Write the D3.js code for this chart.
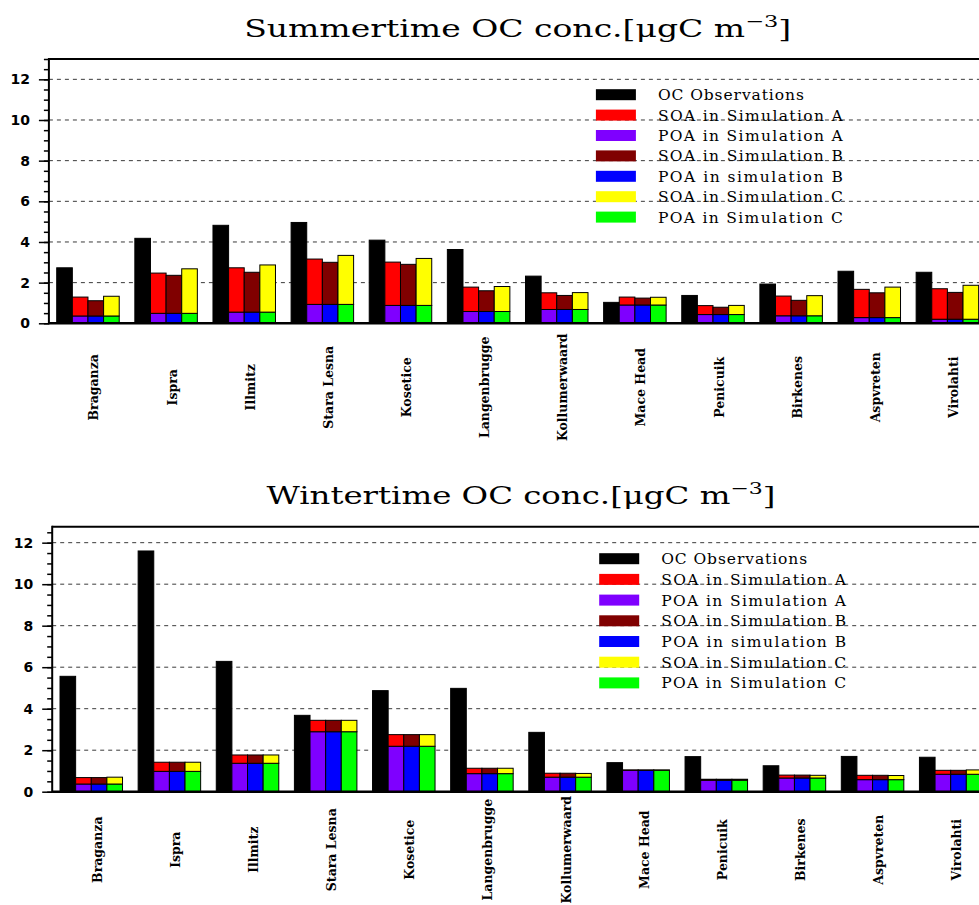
<!DOCTYPE html>
<html>
<head>
<meta charset="utf-8">
<script src="https://cdn.jsdelivr.net/npm/d3@7"></script>
<style>
  html, body { margin: 0; padding: 0; background: #fff; }
  svg { display: block; }
</style>
</head>
<body>
<svg id="chart" width="979" height="905"></svg>
<script>
// Measurement sites, in plotting order
const sites = ["Braganza", "Ispra", "Illmitz", "Stara Lesna", "Kosetice", "Langenbrugge",
  "Kollumerwaard", "Mace Head", "Penicuik", "Birkenes", "Aspvreten", "Virolahti"];

// Summer: observed OC and modelled POA / SOA (µgC m-3)
const summerObs  = [2.73, 4.18, 4.82, 4.96, 4.09, 3.63, 2.32, 1.03, 1.37, 1.93, 2.56, 2.51];
const summerPoa  = [0.36, 0.49, 0.55, 0.93, 0.88, 0.58, 0.68, 0.90, 0.43, 0.37, 0.28, 0.20];
const summerSoaA = [0.93, 1.98, 2.18, 2.23, 2.13, 1.20, 0.82, 0.39, 0.44, 0.97, 1.39, 1.50];
const summerSoaB = [0.75, 1.87, 1.96, 2.07, 2.02, 1.02, 0.69, 0.34, 0.36, 0.76, 1.22, 1.32];
const summerSoaC = [0.97, 2.19, 2.32, 2.41, 2.31, 1.23, 0.83, 0.38, 0.45, 0.99, 1.50, 1.67];

// Winter: observed OC and modelled POA / SOA (µgC m-3)
const winterObs  = [5.56, 11.60, 6.28, 3.68, 4.87, 4.98, 2.86, 1.40, 1.69, 1.25, 1.70, 1.66];
const winterPoa  = [0.37, 0.98, 1.37, 2.89, 2.19, 0.87, 0.70, 1.03, 0.55, 0.66, 0.58, 0.84];
const winterSoaA = [0.31, 0.44, 0.40, 0.55, 0.56, 0.26, 0.19, 0.02, 0.05, 0.14, 0.21, 0.19];
const winterSoaB = [0.31, 0.44, 0.40, 0.55, 0.56, 0.26, 0.19, 0.02, 0.05, 0.14, 0.21, 0.19];
const winterSoaC = [0.33, 0.44, 0.40, 0.55, 0.56, 0.26, 0.18, 0.02, 0.05, 0.13, 0.20, 0.21];

const legendLabels = ["OC Observations", "SOA in Simulation A", "POA in Simulation A",
  "SOA in Simulation B", "POA in simulation B", "SOA in Simulation C", "POA in Simulation C"];
const legendColors = ["#000000", "#ff0000", "#7f00ff", "#800000", "#0000ff", "#ffff00", "#00ff00"];

const majorTicks = [0, 2, 4, 6, 8, 10, 12];

const svg = d3.select("#chart");
const serif = "'DejaVu Serif', serif";

function drawPanel(p) {
  const g = svg.append("g");
  const bandW = 78.13;
  const right = p.left + bandW * sites.length;
  const x = d3.scaleBand().domain(sites).range([p.left, right]).padding(0);
  const slot = x.bandwidth() / 5;
  const y = d3.scaleLinear().domain([0, p.yMax]).range([p.bottom, p.top]);

  // dashed grid
  g.append("g").selectAll("line")
    .data(majorTicks.filter(d => d > 0))
    .join("line")
    .attr("x1", p.left).attr("x2", right)
    .attr("y1", d => y(d)).attr("y2", d => y(d))
    .attr("stroke", "#3a3a3a").attr("stroke-width", 1)
    .attr("stroke-dasharray", "4,4");

  // bars: observation + three stacked simulations
  const sims = [
    { soa: p.soaA, soaColor: "#ff0000", poaColor: "#7f00ff" },
    { soa: p.soaB, soaColor: "#800000", poaColor: "#0000ff" },
    { soa: p.soaC, soaColor: "#ffff00", poaColor: "#00ff00" }
  ];
  const bars = g.append("g");
  sites.forEach((s, i) => {
    const x0 = x(s) + slot * 0.5;
    bars.append("rect")
      .attr("x", x0).attr("width", slot)
      .attr("y", y(p.obs[i])).attr("height", y(0) - y(p.obs[i]))
      .attr("fill", "#000").attr("stroke", "#000").attr("stroke-width", 1);
    sims.forEach((sim, k) => {
      const xs = x0 + slot * (k + 1);
      const poa = p.poa[i], tot = poa + sim.soa[i];
      bars.append("rect")
        .attr("x", xs).attr("width", slot)
        .attr("y", y(poa)).attr("height", y(0) - y(poa))
        .attr("fill", sim.poaColor).attr("stroke", "#000").attr("stroke-width", 1);
      bars.append("rect")
        .attr("x", xs).attr("width", slot)
        .attr("y", y(tot)).attr("height", y(poa) - y(tot))
        .attr("fill", sim.soaColor).attr("stroke", "#000").attr("stroke-width", 1);
    });
  });

  // frame
  g.append("line").attr("x1", p.left).attr("x2", right + 5)
    .attr("y1", p.top).attr("y2", p.top).attr("stroke", "#000").attr("stroke-width", 2);
  g.append("line").attr("x1", p.left).attr("x2", right + 5)
    .attr("y1", p.bottom).attr("y2", p.bottom).attr("stroke", "#000").attr("stroke-width", 2.5);
  g.append("line").attr("x1", p.left).attr("x2", p.left)
    .attr("y1", p.top - 1).attr("y2", p.bottom + 1).attr("stroke", "#000").attr("stroke-width", 2);

  // y axis: minor and major ticks
  const minor = d3.range(0, p.yMax + 0.001, 0.5);
  g.append("g").attr("transform", `translate(${p.left},0)`)
    .call(d3.axisLeft(y).tickValues(minor).tickSize(5).tickFormat(""))
    .call(a => a.select(".domain").remove())
    .call(a => a.selectAll("line").attr("stroke-width", 1.5));
  g.append("g").attr("transform", `translate(${p.left},0)`)
    .call(d3.axisLeft(y).tickValues(majorTicks).tickSize(10).tickPadding(9).tickFormat(d3.format("d")))
    .call(a => a.select(".domain").remove())
    .call(a => a.selectAll("line").attr("stroke-width", 1.5))
    .call(a => a.selectAll("text")
      .attr("font-family", "'DejaVu Sans', sans-serif")
      .attr("font-weight", "bold").attr("font-size", 14).attr("fill", "#000"));

  // site labels, rotated
  g.append("g").selectAll("text")
    .data(sites)
    .join("text")
    .attr("transform", d => `translate(${x(d) + x.bandwidth() / 2 + 10.5},${p.bottom + p.labelOffset}) rotate(-90)`)
    .attr("text-anchor", "middle")
    .attr("font-family", serif)
    .attr("font-weight", "bold").attr("font-size", 12.5)
    .text(d => d);

  // title
  const t = g.append("text")
    .attr("x", (p.left + right) / 2).attr("y", p.titleY)
    .attr("text-anchor", "middle")
    .attr("font-family", serif)
    .attr("font-size", 25)
    .attr("textLength", p.titleWidth).attr("lengthAdjust", "spacingAndGlyphs");
  t.append("tspan").text(p.title + " OC conc.[\u03bcgC m");
  t.append("tspan").attr("dy", -10).attr("font-size", 17).text("\u22123");
  t.append("tspan").attr("dy", 10).text("]");

  // legend
  const lg = g.append("g");
  legendLabels.forEach((lab, i) => {
    const cy = p.legendY + i * p.legendStep;
    lg.append("rect").attr("x", p.left + 547).attr("y", cy - 5.5)
      .attr("width", 40).attr("height", 11).attr("fill", legendColors[i]);
    lg.append("text").attr("x", p.left + 609).attr("y", cy + 5.5)
      .attr("font-family", serif)
      .attr("font-size", 15.5)
      .attr("textLength", lab.length * 9.73).attr("lengthAdjust", "spacing")
      .text(lab);
  });
}

drawPanel({
  title: "Summertime", left: 48.9, top: 59, bottom: 323.3, yMax: 13, labelOffset: 64,
  titleY: 37, titleWidth: 547, legendY: 94.7, legendStep: 20.4,
  obs: summerObs, poa: summerPoa, soaA: summerSoaA, soaB: summerSoaB, soaC: summerSoaC
});
drawPanel({
  title: "Wintertime", left: 52.2, top: 526.7, bottom: 791.7, yMax: 12.77, labelOffset: 58,
  titleY: 504, titleWidth: 509, legendY: 558.7, legendStep: 20.7,
  obs: winterObs, poa: winterPoa, soaA: winterSoaA, soaB: winterSoaB, soaC: winterSoaC
});
</script>
</body>
</html>
